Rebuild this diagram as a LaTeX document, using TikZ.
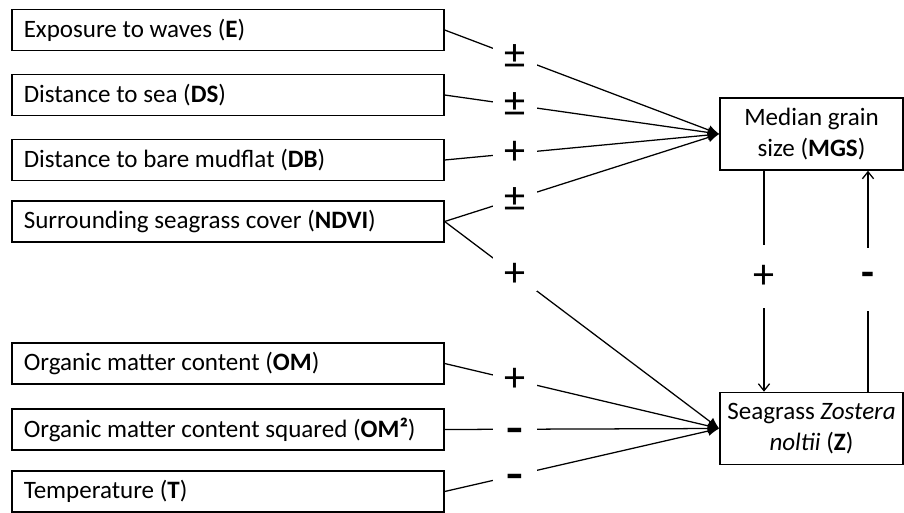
\documentclass[tikz,border=0pt]{standalone}
\usepackage{fontspec}
\setmainfont{Carlito}
\usetikzlibrary{arrows.meta}
\tikzset{
  factor/.style={draw,line width=1.1pt,anchor=west,minimum height=1.025cm,
    text width=10.2cm,inner xsep=0.3cm,align=flush left,
    font=\fontsize{17.8}{21}\selectfont},
  response/.style={draw,line width=1.1pt,minimum width=4.575cm,minimum height=1.8cm,
    align=center,font=\fontsize{17.8}{22}\selectfont},
  effect/.style={line width=0.9pt,-{Latex[length=8pt,width=7pt]}},
  feedback/.style={line width=0.9pt,-{Straight Barb[length=5pt,width=8pt]}},
  sign/.style={fill=white,inner sep=0pt,minimum width=1.1cm,minimum height=0.85cm,
    font=\fontsize{30}{30}\selectfont},
  vsign/.style={sign,minimum height=1.575cm},
  minus/.style={yshift=-0.15cm}
}
\newcommand{\negsign}{\scalebox{1.3}[1]{\textbf{-}}}
\begin{document}
\begin{tikzpicture}[x=0.025cm,y=-0.025cm]
\useasboundingbox (0,0) rectangle (904,513);
% explanatory variables
\node[factor] (E) at (11,30) {Exposure to waves (\textbf{E})};
\node[factor] (DS) at (11,95) {Distance to sea (\textbf{DS})};
\node[factor] (DB) at (11,160) {Distance to bare mudflat (\textbf{DB})};
\node[factor] (NDVI) at (11,221.5) {Surrounding seagrass cover (\textbf{NDVI})};
\node[factor] (OM) at (11,363.5) {Organic matter content (\textbf{OM})};
\node[factor] (OMsq) at (11,429.5) {Organic matter content squared (\textbf{OM²})};
\node[factor] (T) at (11,491.5) {Temperature (\textbf{T})};
% responses
\node[response] (MGS) at (811.5,134) {Median grain\\size (\textbf{MGS})};
\node[response] (Z) at (811.5,428.5) {Seagrass \textit{Zostera}\\\textit{noltii} (\textbf{Z})};
% effects on grain size
\draw[effect] (E.east) -- node[sign,pos=0.256] {±} (MGS.west);
\draw[effect] (DS.east) -- node[sign,pos=0.256] {±} (MGS.west);
\draw[effect] (DB.east) -- node[sign,pos=0.256] {+} (MGS.west);
\draw[effect] (NDVI.east) -- node[sign,pos=0.256] {±} (MGS.west);
% effects on seagrass
\draw[effect] (NDVI.east) -- node[sign,pos=0.256] {+} (Z.west);
\draw[effect] (OM.east) -- node[sign,pos=0.256] {+} (Z.west);
\draw[effect] (OMsq.east) -- node[sign,minus,pos=0.256] {\negsign} (Z.west);
\draw[effect] (T.east) -- node[sign,minus,pos=0.256] {\negsign} (Z.west);
% feedbacks
\draw[feedback] ([xshift=-1.1875cm]MGS.south) -- node[vsign,pos=0.48] {+} ([xshift=-1.1875cm]Z.north);
\draw[feedback] ([xshift=1.4125cm]Z.north) -- node[vsign,pos=0.507] {\textbf{-}} ([xshift=1.4125cm]MGS.south);
\end{tikzpicture}
\end{document}
